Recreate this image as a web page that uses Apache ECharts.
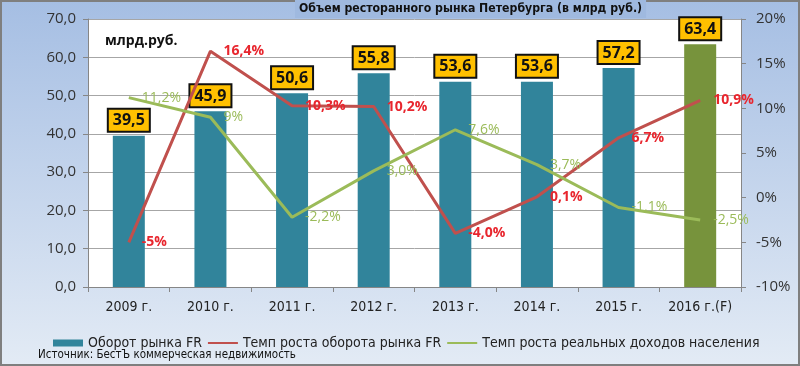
<!DOCTYPE html>
<html><head><meta charset="utf-8">
<script src="https://cdn.jsdelivr.net/npm/echarts@6/dist/echarts.min.js"></script>
<style>html,body{margin:0;padding:0;}#c{width:800px;height:366px;}</style>
</head><body><div id="c"></div>
<script>
const categories = ['2009 г.','2010 г.','2011 г.','2012 г.','2013 г.','2014 г.','2015 г.','2016 г.(F)'];
const turnover = [39.5, 45.9, 50.6, 55.8, 53.6, 53.6, 57.2, 63.4];
const turnoverGrowth = [-5, 16.4, 10.3, 10.2, -4.0, 0.1, 6.7, 10.9];
const turnoverGrowthLabels = ['-5%','16,4%','10,3%','10,2%','-4,0%','0,1%','6,7%','10,9%'];
const incomeGrowth = [11.2, 9, -2.2, 3.0, 7.6, 3.7, -1.1, -2.5];
const incomeGrowthLabels = ['11,2%','9%','-2,2%','3,0%','7,6%','3,7%','-1,1%','-2,5%'];
const seriesNames = ['Оборот рынка FR','Темп роста оборота рынка FR','Темп роста реальных доходов населения'];

const NARROW = '"DejaVu Sans Condensed","Roboto",sans-serif';
const SANS = '"Open Sans","Liberation Sans",sans-serif';
const chart = echarts.init(document.getElementById('c'));
chart.setOption({
  animation: false,
  backgroundColor: {type:'linear', x:0, y:0, x2:0, y2:1, colorStops:[{offset:0,color:'#A5BEE3'},{offset:1,color:'#E3EBF5'}]},
  title: {
    text: 'Объем ресторанного рынка Петербурга (в млрд руб.)',
    left: 295, top: 0,
    backgroundColor: '#9FB9DF',
    padding: [3, 4, 3, 4],
    textStyle: {fontFamily: NARROW, fontSize: 12.2, fontWeight: 'bold', color: '#111'}
  },
  grid: {left: 88, right: 59, top: 19, bottom: 79, show: true, backgroundColor: '#fff', borderWidth: 0},
  legend: {
    left: 48, top: 331, itemGap: 5, itemWidth: 30, itemHeight: 7, width: 750,
    textStyle: {fontFamily: NARROW, fontSize: 14, color: '#222'},
    data: [{name: seriesNames[0], icon: 'rect'}, seriesNames[1], seriesNames[2]]
  },
  xAxis: {
    type: 'category', data: categories,
    axisLine: {lineStyle: {color: '#868686', width: 1}},
    axisTick: {show: true, length: 5, lineStyle: {color: '#868686'}},
    axisLabel: {interval: 0, fontFamily: NARROW, fontSize: 14, color: '#222', margin: 13}
  },
  yAxis: [{
    type: 'value', min: 0, max: 70, interval: 10,
    axisLine: {show: true, lineStyle: {color: '#868686'}},
    axisTick: {show: true, length: 5, lineStyle: {color: '#868686'}},
    splitLine: {lineStyle: {color: '#A6A6A6', width: 1}},
    axisLabel: {fontFamily: SANS, fontSize: 15, color: '#333', margin: 12,
      formatter: v => v.toFixed(1).replace('.', ',')}
  }, {
    type: 'value', min: -10, max: 20, interval: 5,
    axisLine: {show: true, lineStyle: {color: '#868686'}},
    axisTick: {show: true, length: 5, lineStyle: {color: '#868686'}},
    splitLine: {show: false},
    axisLabel: {fontFamily: SANS, fontSize: 15, color: '#333', margin: 15, formatter: v => v + '%'}
  }],
  series: [{
    name: seriesNames[0], type: 'bar', barWidth: 32, z: 2,
    data: turnover.map((v, i) => ({value: v, itemStyle: {color: i === turnover.length - 1 ? '#77933C' : '#31849B'}})),
    itemStyle: {color: '#31849B'},
    label: {show: true, position: 'top', distance: 5,
      formatter: p => p.value.toFixed(1).replace('.', ','),
      backgroundColor: '#FFC000', borderColor: '#111', borderWidth: 2, padding: [3, 4, 2, 4],
      fontFamily: SANS, fontSize: 16, fontWeight: 'bold', color: '#111'}
  }, {
    name: seriesNames[1], type: 'line', yAxisIndex: 1, symbol: 'circle', symbolSize: 2, showSymbol: true, z: 3,
    data: turnoverGrowth,
    lineStyle: {color: '#C0504D', width: 3}, itemStyle: {color: 'rgba(0,0,0,0)'},
    label: {show: true, position: 'right', distance: 12,
      formatter: p => turnoverGrowthLabels[p.dataIndex],
      fontFamily: SANS, fontSize: 14, fontWeight: 'bold', color: '#E8262E'}
  }, {
    name: seriesNames[2], type: 'line', yAxisIndex: 1, symbol: 'circle', symbolSize: 2, showSymbol: true, z: 4,
    data: incomeGrowth,
    lineStyle: {color: '#9BBB59', width: 3}, itemStyle: {color: 'rgba(0,0,0,0)'},
    label: {show: true, position: 'right', distance: 12,
      formatter: p => incomeGrowthLabels[p.dataIndex],
      fontFamily: SANS, fontSize: 14, color: '#9BBB59'}
  }],
  graphic: [
    {type: 'text', left: 105, top: 34, style: {text: 'млрд.руб.', font: 'bold 14px ' + SANS, fill: '#111'}},
    {type: 'text', left: 38, top: 349, style: {text: 'Источник: БестЪ коммерческая недвижимость', font: '11.5px ' + NARROW, fill: '#111'}},
    {type: 'rect', shape: {x: 1, y: 1, width: 798, height: 364}, style: {fill: 'none', stroke: '#7F7F7F', lineWidth: 2}, silent: true}
  ]
});
</script></body></html>
